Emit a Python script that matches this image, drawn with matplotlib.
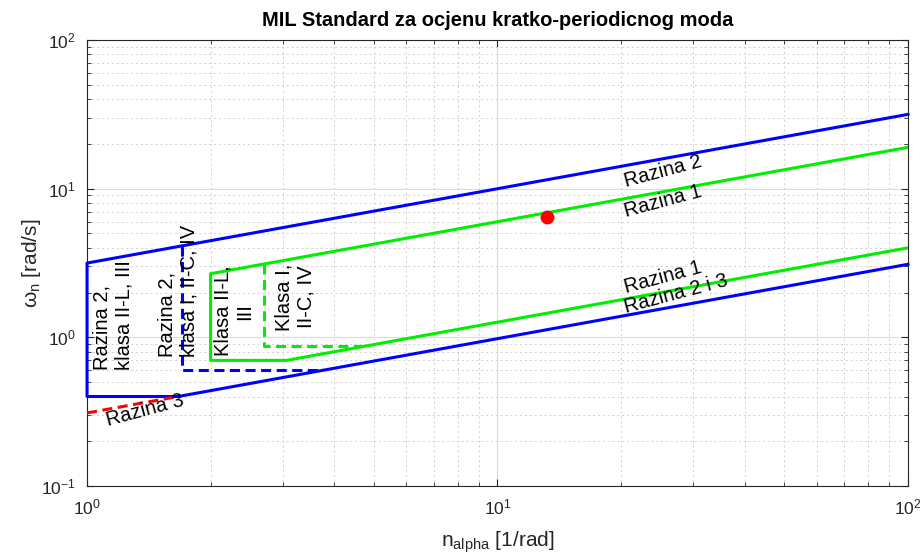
import matplotlib
matplotlib.use("Agg")
import matplotlib.pyplot as plt
from matplotlib.ticker import LogLocator, NullFormatter

plt.rcParams['font.family'] = ['Liberation Sans', 'DejaVu Sans']
plt.rcParams['mathtext.fontset'] = 'custom'
plt.rcParams['mathtext.rm'] = 'Liberation Sans'
plt.rcParams['mathtext.it'] = 'Liberation Sans:italic'
plt.rcParams['axes.unicode_minus'] = False

# granice (n_alpha, omega_n)
razina2_x = [100, 1, 1, 1.667, 100]
razina2_y = [31.6, 3.16, 0.4, 0.4, 3.1]
razina1_x = [100, 2, 2, 3.06, 100]
razina1_y = [18.97, 2.68, 0.7, 0.7, 4.0]
razina2_kl1_x = [1.7, 1.7, 3.75]
razina2_kl1_y = [4.12, 0.6, 0.6]
razina1_kl1_x = [2.7, 2.7, 4.73]
razina1_kl1_y = [3.12, 0.87, 0.87]
razina3_x = [1, 1.667]
razina3_y = [0.31, 0.4]
tocka_x = [13.2]
tocka_y = [6.45]

fig = plt.figure(figsize=(9.23, 5.54), dpi=100)
ax = fig.add_axes([0.0943, 0.1227, 0.8894, 0.8051])

crt = (0, (3.3, 1.8))
ax.plot(razina2_x, razina2_y, color='#0000ff', lw=2.2, clip_on=False, zorder=3)
ax.plot(razina1_x, razina1_y, color='#00ee00', lw=2.2, zorder=3)
ax.plot(razina2_kl1_x, razina2_kl1_y, color='#0000ff', lw=2.2, ls=crt, zorder=3)
ax.plot(razina1_kl1_x, razina1_kl1_y, color='#00ee00', lw=2.2, ls=crt, zorder=3)
ax.plot(razina3_x, razina3_y, color='#ff0000', lw=2.2, ls=crt, clip_on=False, zorder=3)
ax.plot(tocka_x, tocka_y, 'o', color='#ff0000', ms=9, zorder=4)

ax.set_xscale('log')
ax.set_yscale('log')
ax.set_xlim(1, 100)
ax.set_ylim(0.1, 100)

tc = '#262626'
fs = 14.5
ax.text(25.3, 13.1, 'Razina 2', rotation=15, ha='center', va='center', fontsize=fs)
ax.text(25.3, 8.26, 'Razina 1', rotation=15, ha='center', va='center', fontsize=fs)
ax.text(25.3, 2.53, 'Razina 1', rotation=15, ha='center', va='center', fontsize=fs)
ax.text(27.2, 1.95, 'Razina 2 i 3', rotation=15, ha='center', va='center', fontsize=fs)
ax.text(1.385, 0.323, 'Razina 3', rotation=15, ha='center', va='center', fontsize=fs)
ax.text(1.154, 1.41, 'Razina 2,\nklasa II-L, III', rotation=90, ha='center', va='center',
        multialignment='left', fontsize=fs)
ax.text(1.667, 2.05, 'Razina 2,\nklasa I, II-C, IV', rotation=90, ha='center', va='center',
        multialignment='left', fontsize=fs)
ax.text(2.28, 1.50, 'Klasa II-L,\nIII', rotation=90, ha='center', va='center',
        multialignment='center', fontsize=fs)
ax.text(3.22, 1.87, 'Klasa I,\nII-C, IV', rotation=90, ha='center', va='center',
        multialignment='center', fontsize=fs)

ax.set_title('MIL Standard za ocjenu kratko-periodicnog moda', fontsize=14.5,
             fontweight='bold', pad=10)
ax.set_xlabel(r'n$_{\mathdefault{alpha}}$ [1/rad]', fontsize=15, color=tc, labelpad=9)
ax.set_ylabel(r'ω$_{\mathdefault{n}}$ [rad/s]', fontsize=15, color=tc, labelpad=-1)

ax.xaxis.set_minor_locator(LogLocator(base=10, subs=range(2, 10)))
ax.yaxis.set_minor_locator(LogLocator(base=10, subs=range(2, 10)))
ax.xaxis.set_minor_formatter(NullFormatter())
ax.yaxis.set_minor_formatter(NullFormatter())

ax.grid(True, which='major', color='#dcdcdc', lw=0.8, ls='-')
ax.grid(True, which='minor', color='#cfcfcf', lw=0.7, ls=(0, (2, 3)))
ax.set_axisbelow(True)

ax.tick_params(which='both', direction='in', top=True, right=True, colors=tc,
               labelsize=12.5)
ax.tick_params(which='major', length=5, width=0.8, pad=8)
ax.tick_params(which='minor', length=3, width=0.6)
for s in ax.spines.values():
    s.set_color(tc)
    s.set_linewidth(0.8)

fig.savefig('out.png', dpi=100)
